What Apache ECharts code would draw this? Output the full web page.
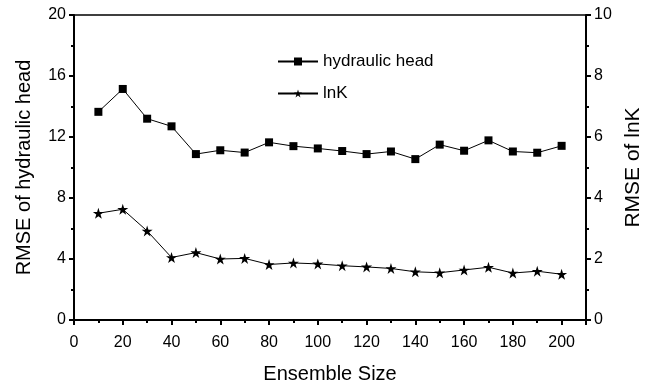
<!DOCTYPE html>
<html>
<head>
<meta charset="utf-8">
<script src="https://cdn.jsdelivr.net/npm/echarts@6/dist/echarts.min.js"></script>
<style>
  html, body { margin: 0; padding: 0; background: #fff; }
  #chart { width: 648px; height: 382px; }
</style>
</head>
<body>
<div id="chart"></div>
<script>
    var ensembleSizes = [10, 20, 30, 40, 50, 60, 70, 80, 90, 100, 110, 120, 130, 140, 150, 160, 170, 180, 190, 200];
    var headRmse = [13.65, 15.15, 13.2, 12.7, 10.88, 11.13, 10.98, 11.65, 11.4, 11.25, 11.08, 10.88, 11.05, 10.55, 11.5, 11.1, 11.78, 11.05, 10.97, 11.42];
    var lnkRmse = [3.5, 3.63, 2.92, 2.05, 2.21, 2.0, 2.02, 1.82, 1.87, 1.84, 1.78, 1.74, 1.69, 1.58, 1.55, 1.64, 1.73, 1.54, 1.6, 1.5];

    initChart();

    function pairs(ys) {
        return ensembleSizes.map(function (x, i) { return [x, ys[i]]; });
    }

    function initChart() {
        var chartDom = document.getElementById('chart');
        var myChart = echarts.init(chartDom);
        var font = 'Liberation Sans, Arial, sans-serif';
        var axisCommon = {
            axisLine: { show: true, lineStyle: { color: '#000', width: 2 } },
            axisTick: { show: true, inside: false, length: 5, lineStyle: { color: '#000', width: 2 } },
            minorTick: { show: true, splitNumber: 2, length: 3, lineStyle: { color: '#000', width: 2 } },
            splitLine: { show: false },
            axisLabel: { color: '#000', fontSize: 16, fontFamily: font },
            nameTextStyle: { color: '#000', fontSize: 20, fontFamily: font }
        };

        var option = {
            animation: false,
            grid: {
                left: 74, right: 62, top: 15, bottom: 62,
                outerBoundsMode: 'none',
                containLabel: false,
                show: true, borderColor: '#000', borderWidth: 1.5
            },
            legend: {
                orient: 'vertical',
                left: 272,
                top: 48,
                itemWidth: 40,
                itemHeight: 10,
                itemGap: 15,
                textStyle: { color: '#000', fontSize: 17, fontFamily: font },
                data: ['hydraulic head', 'lnK']
            },
            xAxis: Object.assign({}, axisCommon, {
                type: 'value',
                min: 0,
                max: 210,
                interval: 20,
                name: 'Ensemble Size',
                nameLocation: 'middle',
                nameGap: 44,
                axisLabel: Object.assign({}, axisCommon.axisLabel, { showMaxLabel: false, margin: 15 })
            }),
            yAxis: [
                Object.assign({}, axisCommon, {
                    type: 'value',
                    min: 0,
                    max: 20,
                    interval: 4,
                    name: 'RMSE of hydraulic head',
                    nameLocation: 'middle',
                    nameGap: 40
                }),
                Object.assign({}, axisCommon, {
                    type: 'value',
                    position: 'right',
                    min: 0,
                    max: 10,
                    interval: 2,
                    name: 'RMSE of lnK',
                    nameLocation: 'middle',
                    nameGap: 32,
                    nameTextStyle: { color: '#000', fontSize: 21, fontFamily: font }
                })
            ],
            series: [
                {
                    name: 'hydraulic head',
                    type: 'line',
                    yAxisIndex: 0,
                    symbol: 'rect',
                    symbolSize: 8,
                    itemStyle: { color: '#000' },
                    lineStyle: { color: '#000', width: 1 },
                    data: pairs(headRmse)
                },
                {
                    name: 'lnK',
                    type: 'line',
                    yAxisIndex: 1,
                    symbol: 'path://M50,0 L61.8,36.2 L100,36.2 L69.1,58.8 L80.9,95.1 L50,72.7 L19.1,95.1 L30.9,58.8 L0,36.2 L38.2,36.2 Z',
                    symbolSize: 11,
                    itemStyle: { color: '#000' },
                    lineStyle: { color: '#000', width: 1 },
                    data: pairs(lnkRmse)
                }
            ]
        };

        option && myChart.setOption(option);
    }
</script>
</body>
</html>
